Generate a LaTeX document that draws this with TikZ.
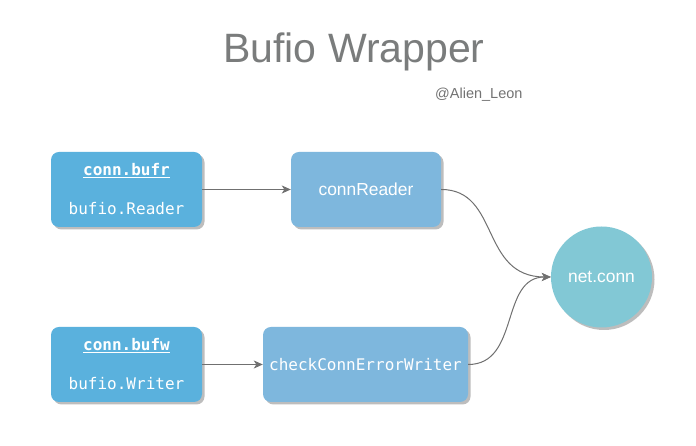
\documentclass[tikz,border=0pt]{standalone}
\usepackage{fontspec}
\setmainfont{Liberation Sans}
\setmonofont{DejaVu Sans Mono}
\usetikzlibrary{arrows.meta, shadows}
\definecolor{bufblue}{RGB}{90,177,221}
\definecolor{wrapblue}{RGB}{126,183,221}
\definecolor{conncyan}{RGB}{130,200,213}
\definecolor{titlegray}{RGB}{122,124,124}
\definecolor{linegray}{RGB}{112,112,112}

\begin{document}
\begin{tikzpicture}[
		boxshadow/.style={drop shadow={shadow xshift=2.5pt, shadow yshift=-2.5pt, fill=black!26, opacity=1}},
		bufbox/.style={rounded corners=8pt, fill=bufblue, text=white, minimum width=151pt, minimum height=75pt, inner sep=0pt, align=center, font=\ttfamily\fontsize{16pt}{39pt}\selectfont, boxshadow},
		wrapbox/.style={rounded corners=8pt, fill=wrapblue, text=white, minimum height=75pt, inner sep=0pt, boxshadow},
		flow/.style={line width=1pt, color=linegray, -{Stealth[length=9pt, width=8pt, inset=2.5pt]}}]
		\path [fill=white] (0pt, 0pt) rectangle (696pt, 446pt);
		\useasboundingbox (0pt, 0pt) rectangle (696pt, 446pt);
		\node [anchor=base, text=titlegray, font=\fontsize{41pt}{48pt}\selectfont] (title) at (354pt, 383pt) {Bufio Wrapper};
		\node [anchor=base west, inner sep=0pt, text=black!55, font=\fontsize{14.5pt}{17pt}\selectfont] (author) at (435pt, 347pt) {@Alien\_Leon};
		\node [bufbox] (bufr) at (126.5pt, 256.5pt) {\underline{\textbf{conn.bufr}}\\bufio.Reader};
		\node [bufbox] (bufw) at (126.5pt, 81.5pt) {\underline{\textbf{conn.bufw}}\\bufio.Writer};
		\node [wrapbox, minimum width=150pt, font=\fontsize{17.4pt}{20pt}\selectfont] (reader) at (366pt, 256.5pt) {connReader};
		\node [wrapbox, minimum width=205pt, font=\ttfamily\fontsize{16pt}{18pt}\selectfont] (writer) at (365.5pt, 81.5pt) {checkConnErrorWriter};
		\node [circle, fill=conncyan, text=white, minimum size=101pt, inner sep=0pt, boxshadow, font=\fontsize{17.4pt}{20pt}\selectfont] (conn) at (601.5pt, 169pt) {net.conn};
		\path [draw, flow] (bufr) -- (reader);
		\path [draw, flow] (bufw) -- (writer);
		\path [draw, flow] (reader.east) .. controls +(59pt, 0pt) and +(-71pt, 0pt) .. (conn.west);
		\path [draw, flow] (writer.east) .. controls +(52pt, 0pt) and +(-51pt, 0pt) .. (conn.west);
	\end{tikzpicture}
\end{document}
